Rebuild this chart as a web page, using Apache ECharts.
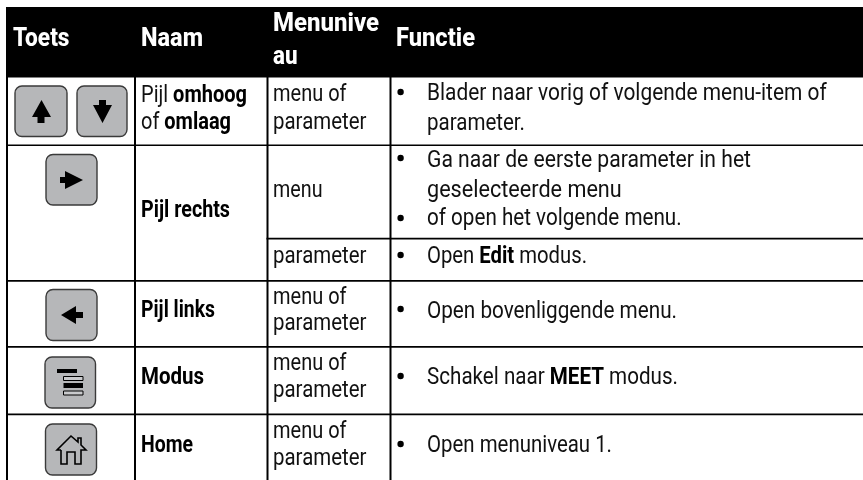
<!DOCTYPE html>
<html><head><meta charset="utf-8">
<style>html,body{margin:0;padding:0;background:#fff}#c{width:863px;height:480px}</style>
<script src="https://cdn.jsdelivr.net/npm/echarts@6/dist/echarts.min.js"></script>
</head><body><div id="c"></div>
<script>
var headers = ['Toets', 'Naam', 'Menunive', 'au', 'Functie'];
var names = ['Pijl {b|omhoog}', 'of {b|omlaag}', '{b|Pijl rechts}', '{b|Pijl links}', '{b|Modus}', '{b|Home}'];
var levels = ['menu of', 'parameter', 'menu', 'parameter', 'menu of', 'parameter', 'menu of', 'parameter', 'menu of', 'parameter'];
var functions = [
  'Blader naar vorig of volgende menu-item of', 'parameter.',
  'Ga naar de eerste parameter in het', 'geselecteerde menu',
  'of open het volgende menu.',
  'Open {b|Edit} modus.',
  'Open bovenliggende menu.',
  'Schakel naar {b|MEET} modus.',
  'Open menuniveau 1.'
];

// layout of the text lines: left edge, right edge, vertical centre
var headX = [13, 141, 273, 273, 396], headEnd = [69.5, 203, 379, 297.5, 475], headY = [39, 39, 24, 57, 39];
var nameEnd = [247, 231, 230, 215, 204, 193], nameY = [95, 122, 210, 310, 377, 445];
var levelEnd = [346.5, 366.5, 322.5, 366.5, 346.5, 366.5, 346.5, 366.5, 346.5, 366.5];
var levelY = [94, 122, 190, 256, 297, 323, 363, 390, 431, 458];
var funcEnd = [826.7, 525, 751, 621.7, 681.7, 587, 677, 678, 612];
var funcY = [93, 123, 160, 190, 218, 256, 311, 377, 445];
var bulletY = [92, 158, 218, 255, 309, 376, 444];

var FONT = 'Roboto', FS = 23, DY = 1.5;
var ctx = document.createElement('canvas').getContext('2d');
function measure(s, weight, fs) {
  var total = 0;
  s.split(/(\{b\|[^}]*\})/).forEach(function (part) {
    if (!part) return;
    var bold = part.indexOf('{b|') === 0;
    ctx.font = (bold ? 'bold' : weight) + ' ' + fs + 'px ' + FONT;
    total += ctx.measureText(bold ? part.slice(3, -1) : part).width;
  });
  return total;
}
var els = [];
function rect(x, y, w, h, fill) { els.push({type:'rect', shape:{x:x,y:y,width:w,height:h}, style:{fill:fill}}); }
function text(x, end, y, s, o) {
  o = o || {};
  var fs = o.fs || FS, w = o.w || 'normal';
  els.push({type:'text', x:x, y:y, scaleX:(end - x) / measure(s, w, fs), z:5, style:{
    text:s, fontFamily:FONT, fontSize:fs, fontWeight:w, fill:o.c || '#111',
    align:'left', verticalAlign:'middle',
    rich:{b:{fontFamily:FONT, fontSize:fs, fontWeight:'bold', fill:o.c || '#000'}}
  }});
}
function btn(x, y, w, h) {
  els.push({type:'rect', shape:{x:x,y:y,width:w,height:h,r:7}, style:{fill:'#b6b7b9', stroke:'#3a3a3a', lineWidth:1.4}});
}
function poly(pts, fill) { els.push({type:'polygon', shape:{points:pts}, style:{fill:fill || '#000'}}); }

// header + grid
rect(6, 7, 857, 70.5, '#000');
rect(6, 77, 2, 403, '#000');
rect(134, 77, 2, 403, '#000');
rect(266.5, 77, 2, 403, '#000');
rect(389.5, 77, 2, 403, '#000');
rect(6, 144.5, 857, 1.6, '#000');
rect(266.5, 237.8, 597, 1.8, '#000');
rect(6, 280, 857, 1.8, '#000');
rect(6, 346, 857, 1.8, '#000');
rect(6, 413.5, 857, 1.8, '#000');

headers.forEach(function (h, i) { text(headX[i], headEnd[i], headY[i], h, {w:'800', c:'#fff', fs:26}); });
names.forEach(function (n, i) { text(141, nameEnd[i], nameY[i] + DY, n); });
levels.forEach(function (n, i) { text(273, levelEnd[i], levelY[i] + DY, n); });
functions.forEach(function (n, i) { text(427, funcEnd[i], funcY[i] + DY, n); });
bulletY.forEach(function (y) { els.push({type:'circle', shape:{cx:400.6,cy:y,r:3.2}, style:{fill:'#000'}}); });

// buttons and icons
btn(15, 86, 52, 50.5);
poly([[41.5,100],[51,117],[44.5,117],[44.5,123],[37.5,123],[37.5,117],[32,117]]);
btn(77, 86, 50, 50.5);
poly([[99,100],[106,100],[106,105],[112,105],[102.5,123],[93,105],[99,105]]);
btn(46, 154.5, 51, 50.5);
poly([[60,177],[65,177],[65,171],[83,180],[65,189],[65,183],[60,183]]);
btn(46, 289.5, 51, 51);
poly([[61,315],[76,306],[76,312],[83,312],[83,318],[76,318],[76,324]]);
btn(45, 357, 50.5, 51);
rect(57, 369, 20, 4, '#000');
rect(63.5, 383, 19.5, 5, '#000');
[376.5, 391].forEach(function (y) {
  els.push({type:'rect', shape:{x:63.5,y:y,width:19.5,height:4}, style:{fill:'#c9cacc', stroke:'#000', lineWidth:1}});
});
btn(45.5, 424, 51, 51);
els.push({type:'polyline', shape:{points:[[61,450],[61,464],[67,464],[67,452],[75,452],[75,464],[81,464],[81,450],[86,450],[81,445],[81,438],[78,438],[78,442],[71,436],[57,450],[61,450]]},
  style:{fill:'none', stroke:'#000', lineWidth:1.6}});

var chart = echarts.init(document.getElementById('c'), null, {renderer:'canvas'});
chart.setOption({backgroundColor:'#fff', animation:false, graphic:{elements:els}});
</script></body></html>
